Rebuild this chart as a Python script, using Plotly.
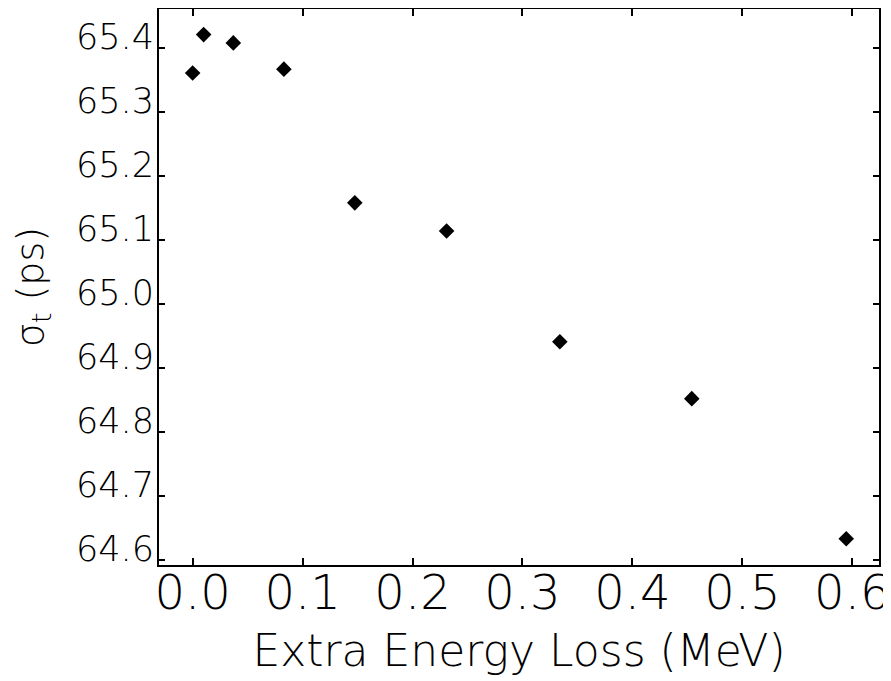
import plotly.graph_objects as go

# Data
extra_energy_loss = [0.0, 0.010, 0.037, 0.083, 0.1475, 0.231, 0.334, 0.454, 0.5945]
sigma_t = [65.361, 65.421, 65.408, 65.367, 65.158, 65.114, 64.941, 64.852, 64.633]

x_tickvals = [0.0, 0.1, 0.2, 0.3, 0.4, 0.5, 0.6]
x_ticktext = ["0.0", "0.1", "0.2", "0.3", "0.4", "0.5", "0.6"]
y_tickvals = [64.6, 64.7, 64.8, 64.9, 65.0, 65.1, 65.2, 65.3, 65.4]
y_ticktext = ["64.6", "64.7", "64.8", "64.9", "65.0", "65.1", "65.2", "65.3", "65.4"]

FONT = "DejaVu Sans"
W = 200

fig = go.Figure()
fig.add_trace(go.Scatter(
    x=extra_energy_loss, y=sigma_t, mode="markers",
    marker=dict(symbol="diamond", size=12, color="black", line=dict(width=0)),
    showlegend=False,
))

fig.update_layout(
    width=891, height=681, autosize=False,
    margin=dict(l=151, r=20, t=1, b=124, pad=0),
    plot_bgcolor="white", paper_bgcolor="white",
    font=dict(family=FONT, color="black", weight=W),
)

fig.update_xaxes(
    range=[-0.0306, 0.6243],
    tickvals=x_tickvals, ticktext=x_ticktext,
    tickfont=dict(size=48, family=FONT, weight=W),
    ticks="inside", ticklen=7, tickwidth=2, tickcolor="black",
    ticklabelstandoff=-16,
    showline=True, linewidth=2, linecolor="black", mirror="ticks",
    showgrid=False, zeroline=False,
    title=dict(text="Extra Energy Loss (MeV)", font=dict(size=44, family=FONT, weight=W), standoff=17),
    automargin=False,
)
fig.update_yaxes(
    range=[64.592, 65.461],
    tickvals=y_tickvals, ticktext=y_ticktext,
    tickfont=dict(size=35, family=FONT, weight=W),
    ticks="inside", ticklen=6, tickwidth=2, tickcolor="black",
    ticklabelshift=-11, ticklabelstandoff=-4,
    showline=True, linewidth=2, linecolor="black", mirror="ticks",
    showgrid=False, zeroline=False,
    title=dict(text="σ<sub>t</sub> (ps)", font=dict(size=38, family=FONT, weight=W), standoff=27),
    automargin=False,
)

fig.write_html("out.html")
